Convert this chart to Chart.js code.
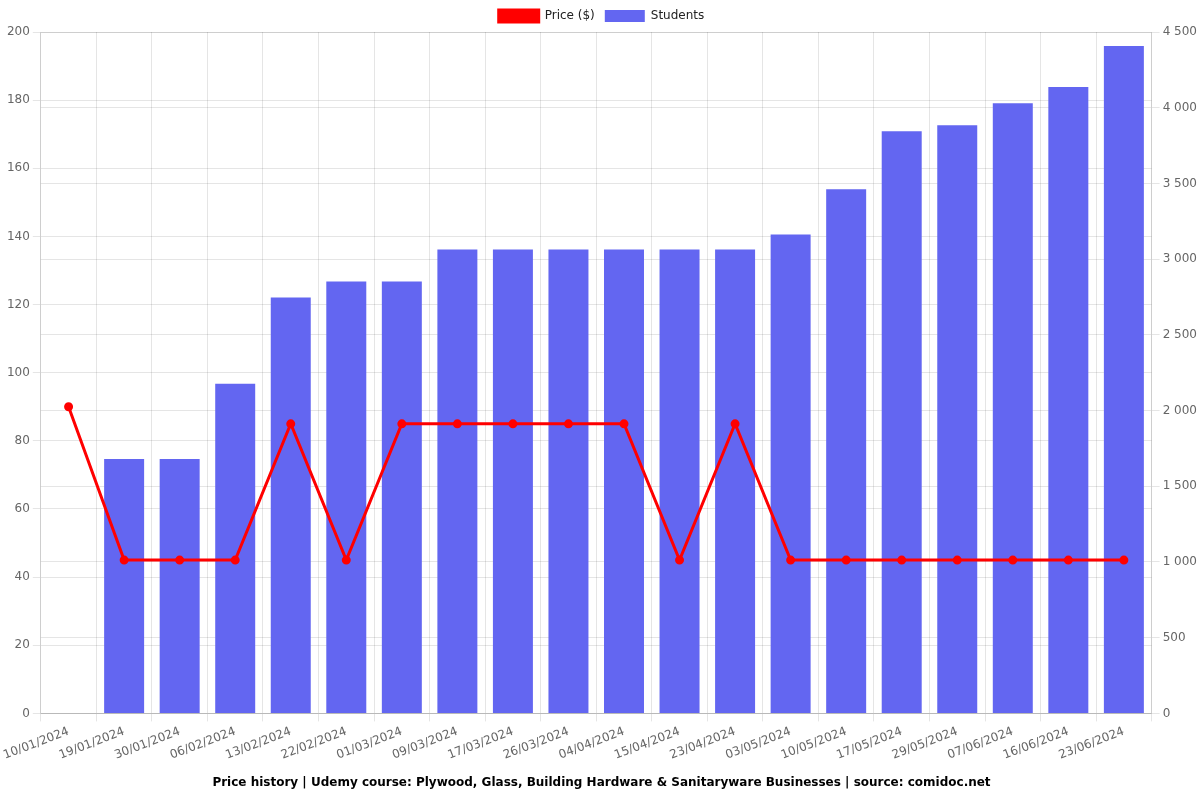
<!DOCTYPE html>
<html>
<head>
<meta charset="utf-8">
<script src="https://cdn.jsdelivr.net/npm/chart.js@4/dist/chart.umd.min.js"></script>
<style>
  html, body { margin: 0; padding: 0; background: #fff; }
  #wrap { width: 1200px; height: 800px; }
</style>
</head>
<body>
<div id="wrap"><canvas id="priceChart"></canvas></div>
<script>
const dates = ['10/01/2024', '19/01/2024', '30/01/2024', '06/02/2024', '13/02/2024', '22/02/2024',
    '01/03/2024', '09/03/2024', '17/03/2024', '26/03/2024', '04/04/2024', '15/04/2024',
    '23/04/2024', '03/05/2024', '10/05/2024', '17/05/2024', '29/05/2024', '07/06/2024',
    '16/06/2024', '23/06/2024'];
const prices = [90, 45, 45, 45, 85, 45, 85, 85, 85, 85, 85, 45, 85, 45, 45, 45, 45, 45, 45, 45];
const students = [0, 1680, 1680, 2177, 2746, 2852, 2852, 3064, 3064, 3064, 3064, 3064, 3064,
    3163, 3461, 3845, 3885, 4030, 4136, 4407];

Chart.defaults.font.family = '"DejaVu Sans", sans-serif';
Chart.defaults.color = '#666';

const ctx = document.getElementById('priceChart').getContext('2d');
new Chart(ctx, {
    type: 'bar',
    data: {
        labels: dates,
        datasets: [{
            type: 'line',
            label: 'Price ($)',
            data: prices,
            borderColor: 'rgb(255, 0, 0)',
            backgroundColor: 'rgb(255, 0, 0)',
            borderWidth: 3,
            pointRadius: 3,
            yAxisID: 'y',
            order: 0
        }, {
            type: 'bar',
            label: 'Students',
            data: students,
            backgroundColor: 'rgb(99, 102, 241)',
            yAxisID: 'y1',
            order: 1
        }]
    },
    options: {
        responsive: true,
        maintainAspectRatio: false,
        animation: false,
        layout: { padding: { left: 3 } },
        plugins: {
            legend: {
                position: 'top',
                labels: { color: '#222', boxWidth: 40 }
            },
            title: {
                display: true,
                position: 'bottom',
                text: 'Price history | Udemy course: Plywood, Glass, Building Hardware & Sanitaryware Businesses | source: comidoc.net',
                color: '#000',
                font: { size: 12, weight: 'bold' }
            }
        },
        scales: {
            y: {
                position: 'left',
                min: 0,
                max: 200,
                ticks: { stepSize: 20 }
            },
            y1: {
                position: 'right',
                min: 0,
                max: 4500,
                ticks: {
                    stepSize: 500,
                    callback: (v) => v >= 1000 ? String(v).replace(/(\d)(\d{3})$/, '$1 $2') : v
                }
            }
        }
    }
});
</script>
</body>
</html>
